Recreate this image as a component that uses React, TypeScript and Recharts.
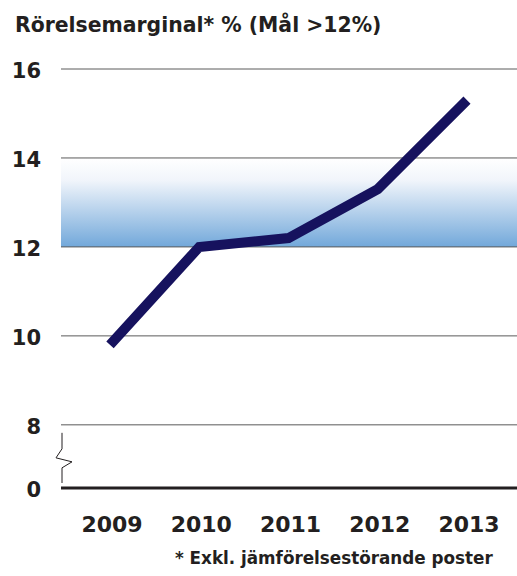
import React from "react";
import {
  LineChart,
  Line,
  XAxis,
  YAxis,
  ReferenceArea,
  ReferenceLine,
} from "recharts";

// Rörelsemarginal per år (%)
const years = ["2009", "2010", "2011", "2012", "2013"];
const margin = [9.8, 12.0, 12.2, 13.3, 15.3];

// axeln är bruten: 0 ritas strax under 8
const axisBase = 6.58;
const yTicks = [axisBase, 8, 10, 12, 14, 16];
const gridValues = [8, 10, 12, 14, 16];
const goalFrom = 12;
const goalTo = 14;

const data = years.map((year, i) => ({ year, idx: i, value: margin[i] }));
const lastIdx = years.length - 1;

const font = "'DejaVu Sans', sans-serif";
const ink = "#231f20";

// liten sicksack som markerar axelbrottet
const AxisBreak = (props: any) => {
  const { x, y, height } = props;
  const x0 = x + 1;
  const d = [
    `M${x0},${y + 8}`,
    `L${x0},${y + 24}`,
    `L${x0 - 6},${y + 33}`,
    `L${x0 + 10},${y + 37}`,
    `L${x0},${y + 43}`,
    `L${x0},${y + height - 5}`,
  ].join(" ");
  return <path d={d} fill="none" stroke={ink} strokeWidth={1} />;
};

const App: React.FC = () => {
  return (
    <div
      style={{
        position: "absolute",
        left: 0,
        top: 0,
        width: 517,
        height: 576,
        background: "#fff",
        fontFamily: font,
      }}
    >
      <div
        style={{
          position: "absolute",
          left: 15,
          top: 15,
          fontSize: 20.4,
          fontWeight: 700,
          lineHeight: 1,
          color: ink,
          whiteSpace: "nowrap",
        }}
      >
        Rörelsemarginal* % (Mål &gt;12%)
      </div>

      <LineChart
        width={517}
        height={576}
        data={data}
        margin={{ top: 69, right: 0, bottom: 48, left: 0 }}
      >
        <defs>
          <linearGradient id="goalBand" x1="0" y1="0" x2="0" y2="1">
            <stop offset="0%" stopColor="#ffffff" />
            <stop offset="25%" stopColor="#f1f5fb" />
            <stop offset="100%" stopColor="#72a8da" />
          </linearGradient>
        </defs>
        <XAxis
          dataKey="year"
          height={40}
          padding={{ left: 49, right: 50 }}
          tickLine={false}
          tickSize={0}
          tickMargin={28}
          axisLine={{ stroke: ink, strokeWidth: 3 }}
          tick={{ fontSize: 22, fontWeight: 700, fill: ink, fontFamily: font, dx: 2 }}
        />
        {/* dold axel över hela plotbredden, för bandet och axelbrottet */}
        <XAxis
          xAxisId="full"
          dataKey="idx"
          type="number"
          domain={[0, lastIdx]}
          hide
        />
        <YAxis
          width={61}
          type="number"
          domain={[axisBase, 16]}
          ticks={yTicks}
          interval={0}
          axisLine={false}
          tickLine={false}
          tickSize={0}
          tickMargin={20}
          tickFormatter={(v: number) => (v < 8 ? "0" : String(v))}
          tick={{ fontSize: 21, fontWeight: 700, fill: ink, fontFamily: font, dy: 2 }}
        />
        <ReferenceArea
          xAxisId="full"
          x1={0}
          x2={lastIdx}
          y1={goalFrom}
          y2={goalTo}
          fill="url(#goalBand)"
          fillOpacity={1}
          stroke="none"
        />
        <ReferenceArea
          xAxisId="full"
          x1={0}
          x2={lastIdx}
          y1={axisBase}
          y2={8}
          fill="none"
          stroke="none"
          shape={AxisBreak}
        />
        {gridValues.map((v) => (
          <ReferenceLine key={v} y={v} stroke="#5a5a5a" strokeWidth={1} />
        ))}
        <Line
          type="linear"
          dataKey="value"
          stroke="#16125e"
          strokeWidth={10}
          strokeLinejoin="miter"
          strokeLinecap="butt"
          dot={false}
          activeDot={false}
          isAnimationActive={false}
        />
      </LineChart>

      <div
        style={{
          position: "absolute",
          left: 175,
          top: 550,
          fontSize: 16.8,
          fontWeight: 700,
          lineHeight: 1,
          color: ink,
          whiteSpace: "nowrap",
        }}
      >
        * Exkl. jämförelsestörande poster
      </div>
    </div>
  );
};

export default App;
